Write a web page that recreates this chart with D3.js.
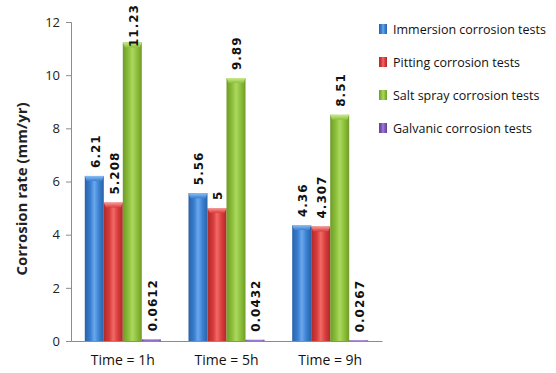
<!DOCTYPE html>
<html>
<head>
<meta charset="utf-8">
<script src="https://cdn.jsdelivr.net/npm/d3@7"></script>
<style>
  html, body { margin: 0; padding: 0; background: #fff; }
  svg { display: block; }
</style>
</head>
<body>
<svg id="chart" width="556" height="373"></svg>
<script>
// Corrosion rate per test method at three exposure times
const categories = ["Time = 1h", "Time = 5h", "Time = 9h"];
const seriesNames = [
  "Immersion corrosion tests",
  "Pitting corrosion  tests",
  "Salt spray corrosion tests",
  "Galvanic corrosion  tests"
];
const immersion = [6.21, 5.56, 4.36];
const pitting = [5.208, 5, 4.307];
const saltSpray = [11.23, 9.89, 8.51];
const galvanic = [0.0612, 0.0432, 0.0267];
const yTicks = [0, 2, 4, 6, 8, 10, 12];

const series = [immersion, pitting, saltSpray, galvanic];
const palette = [
  { base: "#3a7fd0", light: "#6aa8ee", dark: "#2a62a8", cap: "#8cc0f5" },
  { base: "#d83b3b", light: "#f06a66", dark: "#ad2a2a", cap: "#f59a96" },
  { base: "#8cbf3a", light: "#acd860", dark: "#6f9c28", cap: "#c9ea8c" },
  { base: "#7d56b9", light: "#a07ed8", dark: "#5f3f95", cap: "#c2a8ee" }
];

const svg = d3.select("#chart");
const margin = { left: 71, right: 174, top: 22, bottom: 32 };
const W = 556, H = 373;

const x0 = d3.scaleBand()
  .domain(categories)
  .range([margin.left, W - margin.right])
  .paddingInner(0.267)
  .paddingOuter(0.133);
const x1 = d3.scaleBand()
  .domain(d3.range(series.length))
  .range([0, x0.bandwidth()]);
const y = d3.scaleLinear().domain([0, 12]).range([H - margin.bottom, margin.top]);

// gradients for a rounded, shaded bar look
const defs = svg.append("defs");
palette.forEach((c, i) => {
  const g = defs.append("linearGradient").attr("id", "bar" + i)
    .attr("x1", "0").attr("x2", "1").attr("y1", "0").attr("y2", "0");
  g.append("stop").attr("offset", "0%").attr("stop-color", c.dark);
  g.append("stop").attr("offset", "30%").attr("stop-color", c.base);
  g.append("stop").attr("offset", "50%").attr("stop-color", c.light);
  g.append("stop").attr("offset", "75%").attr("stop-color", c.base);
  g.append("stop").attr("offset", "100%").attr("stop-color", c.dark);
  const cg = defs.append("linearGradient").attr("id", "cap" + i)
    .attr("x1", "0").attr("x2", "0").attr("y1", "0").attr("y2", "1");
  cg.append("stop").attr("offset", "0%").attr("stop-color", c.cap);
  cg.append("stop").attr("offset", "100%").attr("stop-color", c.base);
});

// y axis
const yAxis = d3.axisLeft(y).tickValues(yTicks).tickSize(5).tickPadding(6);
const gy = svg.append("g").attr("transform", `translate(${margin.left},0)`).call(yAxis);
gy.select(".domain").attr("stroke", "#8c8c8c");
gy.selectAll(".tick line").attr("stroke", "#8c8c8c");
gy.selectAll(".tick text")
  .attr("font-family", "'Open Sans', 'Noto Sans', sans-serif")
  .attr("font-size", 13).attr("fill", "#222");

// bars
const groups = svg.append("g").selectAll("g")
  .data(categories)
  .join("g")
  .attr("transform", d => `translate(${x0(d)},0)`);

const cells = groups.selectAll("g.cell")
  .data((c, ci) => series.map((s, si) => ({ si, v: s[ci] })))
  .join("g").attr("class", "cell");

cells.append("rect")
  .attr("x", d => x1(d.si))
  .attr("width", x1.bandwidth())
  .attr("y", d => y(d.v))
  .attr("height", d => y(0) - y(d.v))
  .attr("fill", d => `url(#bar${d.si})`);

// lighter bevel at the top of each bar
cells.append("path")
  .attr("d", d => {
    const bx = x1(d.si), bw = x1.bandwidth();
    const top = y(d.v);
    const h = Math.min(5, y(0) - top);
    return `M${bx},${top} L${bx + bw},${top} L${bx + bw - 2},${top + h} L${bx + 2},${top + h} Z`;
  })
  .attr("fill", d => `url(#cap${d.si})`);

// rotated value labels above each bar
cells.append("text")
  .attr("transform", d => {
    const cx = x1(d.si) + x1.bandwidth() / 2;
    let yb = y(d.v) - 8;
    const len = String(d.v).length * 8.6;
    if (yb - len < 4) yb = 4 + len;
    return `translate(${cx + 1},${yb}) rotate(-90)`;
  })
  .attr("dy", "0.36em")
  .attr("font-family", "'DejaVu Sans', sans-serif")
  .attr("font-weight", "bold")
  .attr("font-size", 12)
  .attr("letter-spacing", 1)
  .attr("fill", "#111")
  .text(d => d.v);

// x axis baseline and category labels
const xAxis = d3.axisBottom(x0).tickSize(0).tickPadding(14);
const gx = svg.append("g").attr("transform", `translate(0,${y(0)})`).call(xAxis);
gx.select(".domain").attr("stroke", "#8c8c8c").attr("stroke-width", 1.2);
gx.selectAll(".tick text")
  .attr("font-family", "'Open Sans', 'Noto Sans', sans-serif")
  .attr("font-size", 14).attr("fill", "#111");

// y axis title
svg.append("text")
  .attr("transform", `translate(22,${189}) rotate(-90)`)
  .attr("text-anchor", "middle")
  .attr("dy", "0.35em")
  .attr("font-family", "'Open Sans', 'Noto Sans', sans-serif")
  .attr("font-weight", "bold")
  .attr("font-size", 15)
  .attr("fill", "#222")
  .text("Corrosion rate (mm/yr)");

// legend
const legend = svg.append("g").attr("transform", "translate(379,29)");
const items = legend.selectAll("g").data(seriesNames).join("g")
  .attr("transform", (d, i) => `translate(0,${i * 33})`);
items.append("rect")
  .attr("x", 0).attr("y", -5).attr("width", 8).attr("height", 10)
  .attr("fill", (d, i) => `url(#bar${i})`);
items.append("text")
  .attr("x", 14).attr("dy", "0.36em")
  .attr("font-family", "'Open Sans', 'Noto Sans', sans-serif")
  .attr("font-size", 12.5)
  .attr("fill", "#111")
  .text(d => d);
</script>
</body>
</html>
